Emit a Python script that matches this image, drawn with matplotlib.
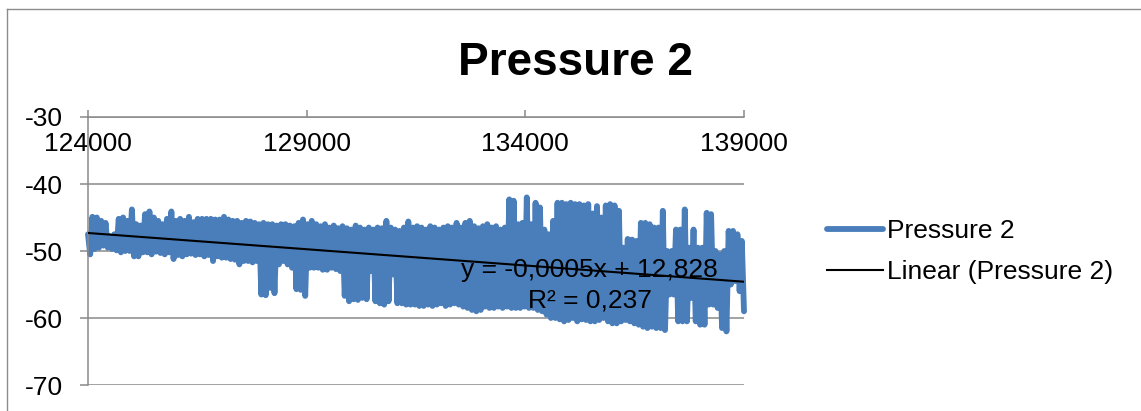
import numpy as np
import matplotlib
matplotlib.use('Agg')
import matplotlib.pyplot as plt
from matplotlib.lines import Line2D

# Envelope of the dense "Pressure 2" signal: one high and one low value per 100-unit step
highs = [-47.5, -44.9, -45.0, -45.5, -45.8, -47.8, -47.5, -45.2, -45.0, -45.5,
         -43.8, -46.0, -46.2, -44.5, -44.1, -45.0, -45.5, -46.0, -45.2, -44.1,
         -45.5, -45.2, -45.5, -44.9, -45.7, -45.2, -45.2, -45.2, -45.2, -45.3,
         -45.3, -44.9, -45.3, -45.5, -45.5, -45.8, -45.5, -45.6, -45.8, -46.0,
         -45.8, -46.0, -46.0, -46.2, -46.0, -46.0, -46.2, -46.3, -45.8, -45.3,
         -46.0, -45.5, -46.0, -46.3, -46.0, -46.5, -46.2, -46.6, -46.3, -46.6,
         -46.8, -46.2, -46.5, -46.8, -46.5, -46.8, -46.5, -46.6, -45.5, -46.5,
         -46.8, -47.0, -46.5, -45.6, -46.5, -46.3, -46.5, -46.8, -46.3, -46.5,
         -46.8, -46.5, -46.3, -46.5, -45.8, -46.5, -45.8, -45.5, -46.3, -46.6,
         -46.3, -46.0, -46.5, -46.3, -46.8, -46.5, -42.3, -42.5, -46.0, -45.8,
         -42.0, -46.0, -42.8, -43.5, -46.8, -47.5, -45.5, -42.8, -42.8, -43.0,
         -42.8, -43.0, -43.0, -43.2, -43.0, -44.4, -43.3, -45.0, -43.2, -43.0,
         -43.2, -44.0, -49.5, -48.2, -48.3, -48.5, -45.8, -45.8, -46.0, -46.5,
         -46.5, -44.0, -50.0, -50.0, -46.8, -46.8, -43.8, -49.5, -46.8, -49.5,
         -49.5, -44.3, -44.5, -50.0, -50.5, -50.0, -47.0, -47.0, -47.5, -48.5]
lows = [-50.5, -49.7, -49.5, -49.2, -49.5, -49.7, -49.9, -50.2, -50.0, -50.0,
        -50.8, -50.8, -50.2, -50.2, -50.5, -50.1, -50.3, -50.5, -50.2, -51.2,
        -50.6, -50.8, -50.5, -50.4, -50.6, -50.5, -50.8, -50.6, -51.5, -50.8,
        -51.0, -51.0, -51.2, -51.3, -52.0, -51.5, -51.5, -51.7, -51.5, -56.5,
        -56.6, -55.5, -56.3, -52.0, -51.5, -52.0, -52.5, -55.7, -55.8, -56.7,
        -52.5, -52.5, -52.5, -52.8, -52.8, -52.5, -52.7, -53.0, -56.7, -57.5,
        -57.2, -57.3, -57.0, -57.2, -53.0, -57.5, -57.8, -58.0, -57.5, -53.5,
        -57.8, -57.8, -58.0, -58.0, -58.0, -58.2, -58.2, -58.0, -58.2, -58.0,
        -57.8, -58.2, -58.0, -57.8, -58.0, -58.3, -58.5, -58.8, -59.0, -58.8,
        -58.3, -58.5, -58.5, -58.3, -58.5, -58.3, -58.5, -58.5, -58.5, -58.3,
        -58.5, -58.5, -58.8, -59.0, -59.5, -60.0, -60.0, -60.2, -60.5, -60.3,
        -60.0, -60.5, -60.2, -60.3, -60.5, -60.5, -60.3, -60.0, -60.5, -60.8,
        -60.8, -60.5, -60.3, -60.5, -60.8, -61.0, -61.3, -61.5, -61.3, -61.5,
        -61.5, -61.8, -56.5, -56.5, -60.5, -60.5, -60.5, -57.0, -60.5, -61.0,
        -61.0, -58.0, -58.0, -58.5, -61.5, -62.0, -55.0, -54.5, -56.0, -59.0]

x_start, x_end = 124000, 139000
x_ticks = [124000, 129000, 134000, 139000]
y_ticks = [-70, -60, -50, -40, -30]
trend_slope = -0.000485
trend_intercept = 12.828
title_text = "Pressure 2"
series_name = "Pressure 2"
trend_name = "Linear (Pressure 2)"
eq_text = "y = -0,0005x + 12,828"
r2_text = "R² = 0,237"

plt.rcParams['font.family'] = ['Liberation Sans', 'DejaVu Sans']

values = np.column_stack([highs, lows]).ravel()
x = np.linspace(x_start, x_end, values.size)

W, H = 1141, 411
fig = plt.figure(figsize=(W / 100, H / 100), dpi=100)
ax = fig.add_axes([88 / W, 26 / H, 656 / W, 268 / H])
ax.set_xlim(x_start, x_end)
ax.set_ylim(-70, -30)

grid_color = '#898989'
ax.set_yticks(y_ticks)
ax.set_yticklabels([str(v) for v in y_ticks])
ax.yaxis.grid(True, color=grid_color, lw=1.1)
ax.set_axisbelow(True)
for s in ['right', 'top']:
    ax.spines[s].set_visible(False)
ax.spines['bottom'].set_position(('data', -30))
ax.spines['bottom'].set_color(grid_color)
ax.spines['bottom'].set_linewidth(1.1)
ax.spines['left'].set_color(grid_color)
ax.spines['left'].set_linewidth(1.1)
ax.set_xticks(x_ticks)
ax.set_xticklabels([str(t) for t in x_ticks])
ax.tick_params(axis='x', direction='in', length=5, width=1.1, color=grid_color,
               labelsize=19, pad=11)
ax.tick_params(axis='y', direction='out', length=6, width=1.1, color=grid_color,
               labelsize=19, pad=12)

h1, = ax.plot(x, values, color='#4A7EBB', lw=4.2, solid_joinstyle='round',
              solid_capstyle='round', label=series_name, clip_on=False, zorder=2)
tx = np.array([x_start, x_end])
h2, = ax.plot(tx, trend_slope * tx + trend_intercept, color='black', lw=1.5,
              label=trend_name, zorder=3)

ax.text(0.765, (385 - 268) / 268, eq_text, transform=ax.transAxes, ha='center',
        va='center_baseline', fontsize=19, zorder=5)
ax.text(0.765, (385 - 298) / 268, r2_text, transform=ax.transAxes, ha='center',
        va='center_baseline', fontsize=19, zorder=5)

fig.legend(handles=[h1, h2], loc='center left',
           bbox_to_anchor=(827 / W, 1 - 251.5 / H), frameon=False, fontsize=19,
           handlelength=2.12, handletextpad=0.15, labelspacing=0.65,
           borderpad=0, borderaxespad=0)

fig.text(576 / W, 1 - 58 / H, title_text, ha='center', va='center_baseline',
         fontsize=33, fontweight='bold')

border_color = '#8c8c8c'
fig.add_artist(Line2D([7 / W, 7 / W], [0, 1 - 9 / H], transform=fig.transFigure,
                      color=border_color, lw=1))
fig.add_artist(Line2D([7 / W, 1], [1 - 9 / H, 1 - 9 / H], transform=fig.transFigure,
                      color=border_color, lw=1))

fig.savefig('out.png', dpi=100)
